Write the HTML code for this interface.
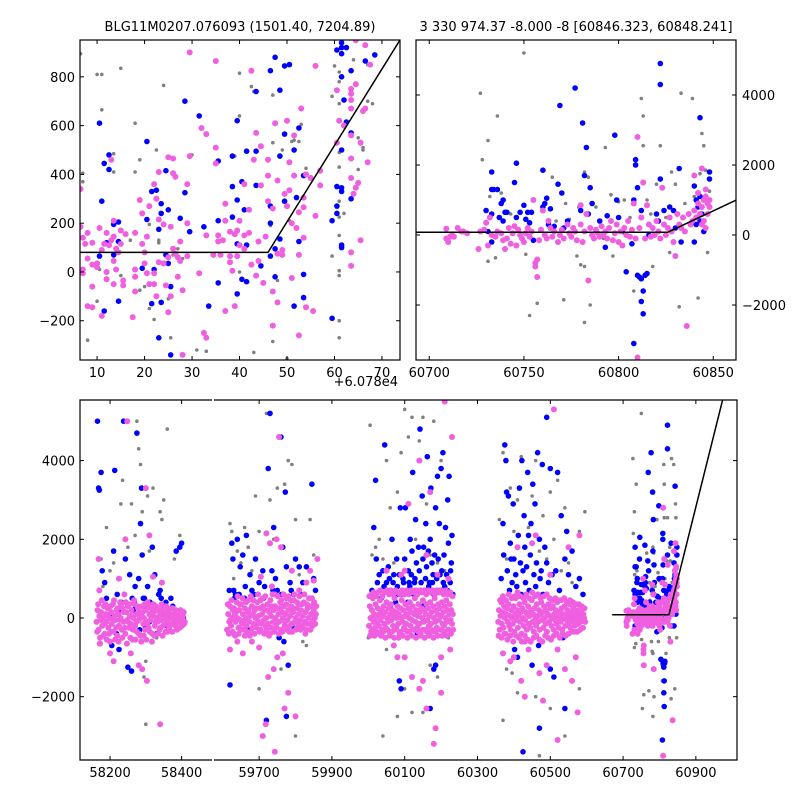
<!DOCTYPE html>
<html><head><meta charset="utf-8"><style>
body{margin:0;background:#fff}
svg text{font-family:"DejaVu Sans","Liberation Sans",sans-serif;font-size:13px;fill:#000}
</style></head><body>
<svg id="chart" width="800" height="800" viewBox="0 0 800 800" xmlns="http://www.w3.org/2000/svg">
<rect width="800" height="800" fill="#fff"/>
<defs>
<clipPath id="cTL"><rect x="80" y="40" width="320" height="320"/></clipPath>
<clipPath id="cTR"><rect x="416" y="40" width="320" height="320"/></clipPath>
<clipPath id="cBL"><rect x="80" y="400" width="132" height="360"/></clipPath>
<clipPath id="cBR"><rect x="214" y="400" width="523" height="360"/></clipPath>
</defs>
<text x="240" y="31" text-anchor="middle">BLG11M0207.076093 (1501.40, 7204.89)</text>
<text x="576" y="31" text-anchor="middle">3 330 974.37 -8.000 -8 [60846.323, 60848.241]</text>
<text x="398" y="386" text-anchor="end">+6.078e4</text>
<g id="layer"></g>
</svg>
<script>
const tlGray=[[6.5,895],[7,405],[7,370],[8,-280],[10,810],[10,-120],[10.5,10],[11,810],[11,665],[13.5,485],[13.5,410],[15,835],[15,-15],[17,130],[18,610],[18,410],[19,460],[19,-75],[20,-60],[21,-150],[21,195],[22,-195],[22.5,500],[23,120],[23,130],[24,765],[25,-110],[25.5,-270],[26,70],[27,95],[28,55],[30,480],[31,-320],[33,-325],[39,475],[40,815],[40,640],[40,0],[42.5,760],[43,740],[46.5,190],[47,725],[47,530],[47,-285],[48,-35],[49,500],[50.5,210],[51,535],[51.5,540],[52.5,535],[53,605],[54,425],[55,390],[59.5,720],[59.5,65],[60,845],[61,820],[61,780],[61,690],[61,490],[61,430],[61,290],[61,225],[61,150],[61,5],[61,-15],[61,-200],[61,-270],[62,240],[64,870],[65,550],[65,420],[66,510],[66,500],[67,700],[67,850],[68,690],[50,-355],[43,-330]];
const tlBlue=[[10.5,610],[10.5,65],[11,290],[11.5,445],[12.5,480],[12.5,420],[11.5,-160],[12,120],[13.5,195],[13.5,70],[14.5,205],[14.5,-120],[14.5,125],[19.5,15],[20.5,535],[20.5,215],[21.5,330],[21.5,-130],[22,10],[22.5,335],[23,175],[23.5,280],[23.5,240],[24.5,415],[25,255],[24.5,70],[25,35],[25.5,-60],[23,-270],[23.5,-125],[25.5,-340],[27.5,220],[28.5,700],[28.5,325],[29.5,165],[31.5,640],[32.5,185],[33.5,-140],[35.5,455],[35.5,210],[35.5,-45],[38.5,475],[38.5,350],[38.5,225],[39.5,620],[39.5,295],[39.5,115],[39.5,-90],[40.5,370],[40.5,-30],[41,255],[41.5,495],[41.5,-40],[41.5,110],[43.5,740],[43.5,495],[43.5,355],[44.5,25],[46.5,825],[46.5,270],[46.5,200],[46.5,65],[47.5,880],[47.5,95],[47.5,-20],[48.5,745],[48.5,135],[48.5,475],[49.5,845],[49.5,565],[50.5,850],[49.5,290],[51.5,500],[51.5,-140],[52.5,590],[52,305],[52.5,125],[53.5,-10],[53.5,-105],[53.5,395],[59.5,210],[59.5,-190],[60.5,910],[60.5,350],[60.5,270],[60.5,240],[61.5,940],[61.5,920],[61.5,895],[61.5,800],[61.5,500],[61.5,345],[61.5,330],[61.5,110],[61.5,100],[62,705],[62.5,920],[62.5,615],[63.5,570],[63.5,825],[63.5,300],[66.5,865],[68.5,890]];
const tlPink=[[6.5,340],[6.5,185],[7,140],[7,10],[7,-5],[7.5,115],[8,160],[8,55],[8,-140],[9,120],[9,30],[9,-60],[9,-145],[10,35],[10,20],[10.5,180],[11,90],[11,-180],[11.5,115],[12,160],[12,-30],[12,0],[12.5,110],[13,130],[13,460],[13.5,210],[13.5,145],[13.5,-50],[13.5,45],[14,95],[14,10],[14.5,80],[15,170],[15,115],[15.5,-35],[15.5,-55],[16,155],[17.5,-185],[18,160],[18,-80],[18,-20],[18,10],[19,295],[19.5,115],[19.5,240],[20,35],[20,80],[20.5,-5],[20.5,145],[21,270],[21,-50],[22,360],[22,-50],[22,-5],[22.5,300],[22.5,-100],[23,215],[23,410],[23,40],[24,195],[24,35],[24.5,-55],[25,470],[25,-165],[25,60],[25.5,185],[25.5,-100],[26,465],[26,405],[26,95],[26.5,390],[26.5,75],[27,60],[27,-20],[27.5,125],[27.5,45],[28,-75],[28,-340],[29,360],[29,200],[29,65],[29.5,900],[29.5,475],[31.5,-5],[32,590],[32.5,-250],[33,565],[33,-270],[33,150],[34.5,70],[35,865],[35,510],[35,445],[35.5,125],[35.5,150],[36,70],[36.5,130],[37,280],[37,210],[37,-160],[38,165],[38,40],[38,65],[38.5,5],[39,155],[39,-140],[39.5,65],[39.5,170],[40,210],[40,110],[41,360],[41,150],[41,95],[42,255],[42,160],[42.5,825],[42.5,30],[43,460],[43.5,570],[43.5,-15],[44,125],[44,45],[44.5,515],[44.5,355],[45,-45],[45.5,145],[46,290],[46,460],[46,395],[47,-220],[47,-80],[47,260],[47.5,610],[48,375],[48,-125],[48,75],[49,70],[49,90],[49.5,320],[50,620],[50,270],[50.5,335],[50.5,450],[51,200],[51,-25],[51.5,560],[51.5,395],[52,180],[52.5,245],[52.5,70],[52.5,-260],[53,670],[53.5,305],[53.5,265],[53.5,140],[54,400],[54,-145],[55,385],[55.5,-160],[56,845],[56,230],[57,415],[57,355],[60.5,745],[60.5,530],[61,620],[62,600],[63.5,750],[63.5,730],[63.5,705],[63.5,670],[63.5,560],[63.5,465],[63.5,385],[63.5,80],[63.5,25],[64,320],[64.5,345],[64.5,770],[65,365],[65.5,530],[65.5,130],[66.5,670],[66.5,930],[67,450],[67.5,850],[64.5,950],[66,660]];
const tlModel=[[6.4,80],[46,80],[73.8,951]];

const trPink=[[60709,180],[60709,-100],[60710,-200],[60711,-50],[60712,0],[60713,-50],[60715,200],[60717,100],[60718,100],[60720,50],[60726,-400],[60727,100],[60729,150],[60730,350],[60731,-300],[60732,500],[60733,0],[60735,-50],[60736,100],[60738,50],[60739,-150],[60740,-400],[60741,-100],[60742,200],[60743,-250],[60744,50],[60745,250],[60746,-300],[60747,150],[60748,0],[60749,-100],[60750,-200],[60751,50],[60752,200],[60753,-50],[60754,100],[60755,1000],[60756,-900],[60756,-800],[60757,-1200],[60757,-700],[60758,-150],[60759,150],[60760,700],[60761,0],[60762,-100],[60763,400],[60764,200],[60765,-50],[60766,100],[60768,-200],[60769,0],[60770,150],[60771,-100],[60773,300],[60774,50],[60775,-50],[60776,200],[60777,100],[60778,-150],[60780,850],[60780,300],[60781,-200],[60782,100],[60783,600],[60784,-1300],[60785,200],[60786,0],[60787,-100],[60788,150],[60789,50],[60790,-50],[60791,250],[60792,0],[60793,100],[60794,-100],[60795,200],[60796,400],[60797,-150],[60798,50],[60799,300],[60800,-200],[60801,100],[60802,-300],[60803,200],[60804,0],[60805,400],[60806,-50],[60807,150],[60808,900],[60809,-100],[60810,2800],[60810,-3500],[60811,200],[60812,500],[60813,1500],[60814,-100],[60815,850],[60816,300],[60817,-50],[60818,200],[60819,0],[60820,400],[60821,100],[60822,-100],[60823,1350],[60824,300],[60825,0],[60826,200],[60827,500],[60828,100],[60829,-200],[60830,-600],[60831,600],[60832,300],[60833,200],[60834,500],[60835,100],[60836,-2600],[60837,600],[60838,300],[60839,400],[60840,1700],[60840,700],[60841,500],[60842,900],[60842,1200],[60843,600],[60844,1900],[60844,800],[60845,1000],[60845,400],[60846,1100],[60846,200],[60847,900],[60847,600],[60848,800],[60848,1000],[60844,300],[60846,1300]];
const trBlue=[[60730,700],[60731,100],[60733,1800],[60733,1300],[60734,1300],[60733,600],[60733,-200],[60736,1300],[60737,500],[60738,900],[60739,1000],[60739,400],[60740,650],[60741,650],[60745,1500],[60746,2050],[60746,500],[60748,650],[60750,850],[60751,450],[60752,650],[60753,350],[60754,650],[60755,-150],[60760,1850],[60760,800],[60761,900],[60762,1050],[60763,300],[60764,750],[60766,250],[60768,1450],[60769,3700],[60770,1200],[60771,200],[60773,400],[60777,4200],[60780,700],[60781,3200],[60782,1700],[60783,2500],[60784,600],[60785,1350],[60786,900],[60790,400],[60793,-350],[60794,550],[60798,2850],[60799,1000],[60800,500],[60802,100],[60804,-1050],[60807,-250],[60808,1000],[60809,2000],[60809,2150],[60810,1350],[60810,-1150],[60811,-1200],[60812,-1250],[60812,-1900],[60813,-1600],[60813,-2250],[60814,-1150],[60815,-1100],[60808,-3100],[60812,700],[60816,0],[60818,200],[60820,600],[60821,400],[60822,4900],[60822,4300],[60822,1600],[60824,700],[60827,800],[60829,700],[60830,200],[60832,1900],[60833,-200],[60840,1400],[60840,-200],[60841,1000],[60841,300],[60842,1200],[60842,800],[60843,1100],[60843,400],[60843,3350],[60844,600],[60845,100],[60848,1800],[60848,1600],[60847,900]];
const trGray=[[60727,4050],[60728,2150],[60731,2700],[60731,-750],[60732,1100],[60735,-650],[60736,3400],[60738,1200],[60743,600],[60750,5200],[60751,-550],[60753,-2300],[60757,-1950],[60765,1650],[60767,400],[60771,-1850],[60772,900],[60774,450],[60778,-600],[60779,800],[60780,-850],[60782,-900],[60782,-2500],[60782,1800],[60784,1650],[60785,-2000],[60788,800],[60792,-100],[60793,2500],[60796,1150],[60797,-600],[60800,950],[60803,1000],[60806,500],[60808,-1600],[60812,3900],[60813,3400],[60813,2550],[60815,1000],[60817,600],[60818,-900],[60820,1450],[60822,2550],[60825,500],[60827,-500],[60828,1800],[60830,1450],[60832,-2050],[60833,4050],[60835,900],[60839,3900],[60840,1100],[60842,-1800],[60843,1750],[60844,2900],[60845,2550],[60846,1850],[60847,-500],[60848,1250]];
const trModel=[[60680,80],[60826,80],[60880,1450]];

const s1Pink=[[58162,-100],[58165,200],[58168,-300],[58170,50],[58172,-500],[58175,150],[58178,-200],[58180,0],[58183,300],[58185,-400],[58188,100],[58190,-100],[58193,250],[58195,-250],[58198,0],[58200,-600],[58203,150],[58205,-150],[58208,350],[58210,-350],[58213,50],[58215,-50],[58218,200],[58220,-450],[58223,100],[58225,-200],[58228,400],[58230,0],[58233,-300],[58235,250],[58238,-100],[58240,600],[58243,-400],[58245,150],[58248,-50],[58250,300],[58253,-250],[58255,50],[58258,-150],[58260,200],[58263,-550],[58265,0],[58268,350],[58270,-200],[58273,100],[58275,-350],[58278,250],[58280,-50],[58283,150],[58285,-450],[58288,50],[58290,300],[58293,-150],[58295,0],[58298,-300],[58300,200],[58303,-100],[58305,400],[58308,-250],[58310,100],[58313,-50],[58315,250],[58318,-400],[58320,50],[58323,150],[58325,-200],[58328,300],[58330,0],[58333,-100],[58335,200],[58338,-300],[58340,100],[58343,-50],[58345,250],[58348,-200],[58350,0],[58353,150],[58355,-350],[58358,50],[58360,-100],[58363,200],[58365,-250],[58368,100],[58370,0],[58373,-150],[58375,250],[58378,-50],[58380,100],[58383,-200],[58385,0],[58388,150],[58390,-100],[58393,50],[58395,-250],[58398,100],[58400,-50],[58403,0],[58406,150],[58409,-100],[58168,1500],[58170,700],[58210,-1100],[58225,1000],[58243,2000],[58248,5000],[58258,-900],[58280,-1200],[58290,-1300],[58300,3300],[58303,-1600],[58310,2100],[58320,1050],[58340,-2700],[58345,900],[58200,-900]];
const s1PinkCore=[[58164,-350],[58167,350],[58171,-650],[58174,-50],[58177,450],[58181,-450],[58184,-150],[58187,350],[58191,-550],[58194,50],[58197,-400],[58201,300],[58204,-350],[58207,-50],[58211,450],[58214,-550],[58217,-250],[58221,250],[58224,-600],[58227,-50],[58231,350],[58234,-500],[58237,150],[58241,-250],[58244,400],[58247,-650],[58251,-100],[58254,350],[58257,-500],[58261,50],[58264,-300],[58267,450],[58271,-550],[58274,-100],[58277,300],[58281,-400],[58284,0],[58287,-600],[58291,150],[58294,-450],[58297,350],[58301,-550],[58304,-150],[58307,300],[58311,-350],[58314,50],[58317,-600],[58321,350],[58324,-450],[58327,-100],[58331,250],[58334,-400],[58337,50],[58341,-250],[58344,350],[58347,-450],[58351,150],[58354,-150],[58357,300],[58361,-350],[58364,50],[58367,-200],[58371,250],[58374,-350],[58377,100],[58381,-150],[58384,200],[58387,-300],[58391,100],[58394,-100],[58397,200],[58401,-200],[58404,100],[58407,-150]];
const s1Blue=[[58165,5000],[58168,3300],[58170,3250],[58172,-650],[58175,3700],[58178,1200],[58185,900],[58190,500],[58200,100],[58205,-700],[58210,1700],[58213,3750],[58218,-400],[58220,600],[58225,-800],[58230,200],[58238,5000],[58243,1500],[58250,-1250],[58255,1100],[58260,-1350],[58265,200],[58268,400],[58270,800],[58275,4700],[58280,1000],[58283,-300],[58285,2400],[58288,3300],[58290,1600],[58293,500],[58298,-200],[58300,300],[58305,800],[58310,-100],[58318,1800],[58320,200],[58325,1100],[58330,-400],[58340,700],[58343,500],[58350,100],[58360,-200],[58375,300],[58385,1700],[58395,1800],[58400,1900],[58405,0],[58232,400],[58262,500],[58272,300],[58296,500],[58312,400],[58336,600],[58356,400],[58370,500]];
const s1Gray=[[58175,1500],[58180,800],[58190,2300],[58200,1200],[58210,1400],[58220,-200],[58230,2900],[58235,3500],[58240,-100],[58250,1800],[58260,2900],[58270,2100],[58275,5000],[58280,4300],[58285,3900],[58290,2700],[58300,-1100],[58305,3100],[58310,1700],[58320,3300],[58330,-500],[58340,2700],[58345,2500],[58350,3000],[58360,4800],[58380,1500],[58395,2100],[58300,-2700],[58295,-1500]];

const s2Pink=[[59612,-300],[59615,100],[59618,-100],[59620,300],[59623,-200],[59625,0],[59628,200],[59630,-400],[59633,100],[59635,-100],[59638,400],[59640,0],[59643,-250],[59645,200],[59648,-50],[59650,350],[59653,-150],[59655,100],[59658,-300],[59660,250],[59663,0],[59665,-200],[59668,150],[59670,450],[59673,-100],[59675,50],[59678,-350],[59680,300],[59683,100],[59685,-150],[59688,200],[59690,0],[59693,-250],[59695,400],[59698,50],[59700,-100],[59703,250],[59705,-300],[59708,100],[59710,500],[59713,-50],[59715,200],[59718,-200],[59720,0],[59723,350],[59725,-150],[59728,150],[59730,-400],[59733,50],[59735,300],[59738,-100],[59740,200],[59743,600],[59745,0],[59748,-250],[59750,250],[59753,100],[59755,-100],[59758,400],[59760,-300],[59763,150],[59765,0],[59768,300],[59770,-200],[59773,100],[59775,500],[59778,-50],[59780,200],[59783,-350],[59785,50],[59788,300],[59790,-150],[59793,150],[59795,450],[59798,-100],[59800,0],[59803,250],[59805,-250],[59808,100],[59810,350],[59813,-50],[59815,200],[59818,-200],[59820,50],[59823,400],[59825,-100],[59828,150],[59830,-300],[59833,250],[59835,0],[59838,300],[59840,-150],[59843,100],[59845,500],[59848,-50],[59850,200],[59853,0],[59856,100],[59620,-800],[59640,-600],[59655,-900],[59680,-600],[59700,-750],[59705,1050],[59710,-3000],[59718,-2700],[59720,2150],[59725,-1500],[59730,1900],[59735,800],[59740,-1300],[59743,-3400],[59748,2000],[59750,-1000],[59755,4600],[59760,1800],[59765,-900],[59770,-2300],[59780,-1900],[59790,1200],[59800,-2500],[59810,700],[59830,900],[59840,1200],[59850,950],[59860,1500]];
const s2PinkCore=[[59614,350],[59617,-400],[59621,-50],[59624,450],[59627,-350],[59631,250],[59634,-450],[59637,150],[59641,550],[59644,-400],[59647,350],[59651,-300],[59654,500],[59657,-100],[59661,-450],[59664,400],[59667,-350],[59671,200],[59674,-450],[59677,550],[59681,-250],[59684,450],[59687,-400],[59691,250],[59694,-150],[59697,600],[59701,-350],[59704,450],[59707,-150],[59711,300],[59714,-400],[59717,550],[59721,-300],[59724,200],[59727,-450],[59731,450],[59734,-250],[59737,600],[59741,-350],[59744,300],[59747,-150],[59751,550],[59754,-400],[59757,250],[59761,450],[59764,-350],[59767,600],[59771,-100],[59774,350],[59777,-300],[59781,550],[59784,-200],[59787,450],[59791,-350],[59794,250],[59797,600],[59801,-300],[59804,400],[59807,-150],[59811,550],[59814,-300],[59817,350],[59821,-250],[59824,600],[59827,-400],[59831,350],[59834,-150],[59837,500],[59841,-300],[59844,300],[59847,-200],[59851,400],[59854,-150],[59857,300]];
const s2Blue=[[59620,-1700],[59625,1900],[59628,1500],[59630,700],[59635,600],[59640,2000],[59648,1300],[59655,1600],[59660,500],[59665,2100],[59670,-300],[59675,1100],[59680,700],[59690,1500],[59700,900],[59710,1200],[59715,800],[59720,-2600],[59725,3800],[59730,5200],[59735,1200],[59740,2300],[59745,1000],[59750,700],[59755,-500],[59760,4600],[59765,1800],[59768,-600],[59772,3200],[59775,1300],[59780,-1200],[59785,900],[59790,-200],[59795,600],[59800,1500],[59810,1300],[59820,900],[59830,1300],[59840,-300],[59850,1000],[59845,3400],[59775,-2500],[59618,700],[59632,500],[59645,600],[59662,800],[59686,600],[59712,500],[59738,700],[59762,600],[59788,700],[59815,600],[59838,500],[59855,700]];
const s2Gray=[[59620,2400],[59625,2200],[59630,1000],[59640,1700],[59650,1400],[59660,2300],[59670,1800],[59680,1200],[59690,3100],[59700,2200],[59710,5600],[59720,5200],[59730,3000],[59740,2000],[59750,3300],[59760,1800],[59770,3400],[59780,4000],[59790,3900],[59800,2500],[59810,1100],[59820,-600],[59830,-700],[59840,2500],[59850,1600],[59700,-1800],[59800,-3000],[59760,-1300]];

const s3Pink=[[60002,-200],[60004,300],[60006,0],[60008,-350],[60010,200],[60012,500],[60014,-100],[60016,100],[60018,-250],[60020,350],[60022,0],[60024,-150],[60026,250],[60028,-400],[60030,100],[60032,450],[60034,-50],[60036,200],[60038,-300],[60040,50],[60042,300],[60044,-150],[60046,150],[60048,-250],[60050,400],[60052,0],[60054,-100],[60056,250],[60058,-350],[60060,100],[60062,350],[60064,-50],[60066,200],[60068,-200],[60070,50],[60072,500],[60074,-300],[60076,150],[60078,0],[60080,300],[60082,-150],[60084,100],[60086,-400],[60088,250],[60090,0],[60092,450],[60094,-100],[60096,200],[60098,-250],[60100,50],[60102,350],[60104,-150],[60106,100],[60108,-350],[60110,250],[60112,0],[60114,400],[60116,-200],[60118,150],[60120,-50],[60122,300],[60124,-300],[60126,100],[60128,500],[60130,-100],[60132,200],[60134,-250],[60136,50],[60138,350],[60140,-150],[60142,150],[60144,-400],[60146,250],[60148,0],[60150,450],[60152,-100],[60154,200],[60156,-300],[60158,100],[60160,350],[60162,-50],[60164,250],[60166,-200],[60168,50],[60170,400],[60172,-150],[60174,150],[60176,-350],[60178,300],[60180,0],[60182,500],[60184,-100],[60186,200],[60188,-250],[60190,100],[60192,350],[60194,-50],[60196,250],[60198,-300],[60200,50],[60202,400],[60204,-150],[60206,150],[60208,-200],[60210,300],[60212,0],[60214,450],[60216,-100],[60218,200],[60220,-300],[60222,100],[60224,350],[60226,-50],[60228,200],[60230,-150],[60232,100],[60050,1200],[60070,-700],[60080,-1000],[60090,1100],[60100,1200],[60110,2900],[60120,-1500],[60130,700],[60140,4000],[60150,-1600],[60160,-2300],[60170,3200],[60180,-3200],[60185,-2800],[60200,-1900],[60210,5500],[60220,1000],[60230,4600],[60100,-1000],[60200,-1000],[60225,-800],[60140,-1800],[60160,1600],[60190,1100]];
const s3PinkCore=[[60003,550],[60005,-450],[60009,600],[60011,-300],[60015,650],[60017,-450],[60021,550],[60023,-350],[60027,650],[60029,-200],[60033,700],[60035,-450],[60039,550],[60041,-350],[60045,650],[60047,-500],[60051,700],[60053,-300],[60057,600],[60059,-450],[60063,700],[60065,-350],[60069,600],[60071,-500],[60075,700],[60077,-250],[60081,650],[60083,-500],[60087,600],[60089,-350],[60093,700],[60095,-450],[60099,600],[60101,-300],[60105,700],[60107,-500],[60111,600],[60113,-350],[60117,700],[60119,-450],[60123,650],[60125,-300],[60129,700],[60131,-500],[60135,600],[60137,-350],[60141,700],[60143,-450],[60147,650],[60149,-300],[60153,700],[60155,-500],[60159,600],[60161,-350],[60165,700],[60167,-450],[60171,650],[60173,-300],[60177,700],[60179,-500],[60183,600],[60185,-350],[60189,700],[60191,-450],[60195,650],[60197,-300],[60201,700],[60203,-450],[60207,600],[60209,-350],[60213,700],[60215,-450],[60219,600],[60221,-300],[60225,650],[60227,-400],[60231,550],[60233,-300]];
const s3Blue=[[60010,700],[60015,2300],[60020,3500],[60022,1500],[60030,1100],[60035,500],[60040,1200],[60045,4400],[60050,900],[60055,1300],[60060,700],[60065,2000],[60070,1100],[60072,600],[60075,400],[60078,1500],[60080,800],[60085,1100],[60088,2800],[60090,600],[60095,1000],[60100,1500],[60102,2800],[60105,700],[60108,400],[60110,1200],[60112,900],[60115,2000],[60118,1100],[60120,1700],[60122,3700],[60125,600],[60128,1000],[60130,2500],[60132,1400],[60135,-400],[60138,1800],[60140,1200],[60142,4800],[60145,900],[60148,3100],[60150,1500],[60152,1800],[60155,700],[60158,2400],[60160,1300],[60162,4100],[60165,1700],[60168,900],[60170,2000],[60172,3300],[60175,1400],[60178,1100],[60180,600],[60182,1600],[60185,2800],[60188,1000],[60190,3600],[60192,1500],[60195,2400],[60198,700],[60200,3800],[60202,1200],[60205,4200],[60208,1600],[60210,800],[60212,2300],[60215,1100],[60218,3000],[60220,1900],[60222,3600],[60225,900],[60228,1400],[60230,2100],[60232,600],[60085,-1600],[60090,-1800],[60170,-2300],[60180,-1300],[60195,-3700],[60185,-1200],[60060,300],[60150,300],[60025,900],[60043,800],[60058,1000],[60068,900],[60083,600],[60097,900],[60114,800],[60127,900],[60143,700],[60157,1000],[60166,800],[60176,900],[60187,700],[60197,1100],[60206,900],[60217,700],[60226,1200]];
const s3Gray=[[60005,4900],[60010,1600],[60020,1800],[60030,2000],[60040,1500],[60050,4000],[60060,2800],[60070,1400],[60080,3200],[60090,4200],[60100,5300],[60110,4600],[60120,5100],[60130,2000],[60140,4500],[60150,5100],[60160,2900],[60170,1600],[60180,5000],[60190,1400],[60200,4000],[60210,1200],[60220,-500],[60000,-500],[60050,-800],[60080,-2500],[60100,-1800],[60120,-2400],[60150,-2400],[60170,-1200],[60190,-1500],[60040,-3000]];

const s4Pink=[[60357,-100],[60359,200],[60361,-300],[60363,50],[60365,400],[60367,-150],[60369,150],[60371,-250],[60373,300],[60375,0],[60377,-400],[60379,100],[60381,250],[60383,-100],[60385,350],[60387,-200],[60389,50],[60391,-300],[60393,200],[60395,0],[60397,-150],[60399,300],[60401,-350],[60403,100],[60405,500],[60407,-50],[60409,200],[60411,-250],[60413,50],[60415,350],[60417,-100],[60419,150],[60421,-400],[60423,250],[60425,0],[60427,-200],[60429,400],[60431,-50],[60433,150],[60435,-300],[60437,100],[60439,300],[60441,-150],[60443,50],[60445,-250],[60447,200],[60449,450],[60451,-100],[60453,100],[60455,-350],[60457,250],[60459,0],[60461,-200],[60463,350],[60465,50],[60467,-100],[60469,200],[60471,-300],[60473,100],[60475,400],[60477,-50],[60479,150],[60481,-250],[60483,300],[60485,0],[60487,-150],[60489,200],[60491,-350],[60493,100],[60495,350],[60497,-100],[60499,50],[60501,250],[60503,-200],[60505,0],[60507,300],[60509,-300],[60511,100],[60513,-50],[60515,200],[60517,-150],[60519,400],[60521,0],[60523,-250],[60525,150],[60527,50],[60529,-100],[60531,250],[60533,-300],[60535,100],[60537,0],[60539,300],[60541,-200],[60543,50],[60545,-50],[60547,200],[60549,-150],[60551,100],[60553,350],[60555,-250],[60557,0],[60559,150],[60561,-100],[60563,250],[60565,50],[60567,-200],[60569,100],[60571,0],[60573,-50],[60575,200],[60577,-150],[60579,100],[60581,0],[60583,-100],[60585,150],[60587,50],[60589,-50],[60591,100],[60593,0],[60596,-100],[60370,-900],[60390,-1100],[60400,-1000],[60410,1800],[60420,-1600],[60430,-600],[60440,-800],[60450,1900],[60460,2100],[60470,-1400],[60480,-2100],[60490,-1200],[60500,1100],[60510,5300],[60520,-800],[60540,-1300],[60550,1800],[60560,-1600],[60570,-1000],[60575,-2400],[60580,2100],[60520,-3100],[60430,-2000]];
const s4PinkCore=[[60358,-450],[60362,450],[60366,-500],[60370,550],[60374,-400],[60378,450],[60382,-550],[60386,600],[60390,-450],[60394,500],[60398,-600],[60402,550],[60406,-450],[60410,650],[60414,-500],[60418,550],[60422,-600],[60426,500],[60430,-450],[60434,600],[60438,-550],[60442,500],[60446,-600],[60450,650],[60454,-500],[60458,550],[60462,-450],[60466,600],[60470,-550],[60474,500],[60478,-600],[60482,550],[60486,-450],[60490,600],[60494,-500],[60498,500],[60502,-550],[60506,450],[60510,-450],[60514,500],[60518,-400],[60522,450],[60526,-500],[60530,450],[60534,-400],[60538,500],[60542,-450],[60546,400],[60550,-400],[60554,450],[60558,-350],[60562,400],[60566,-350],[60570,350],[60574,-350],[60578,350],[60582,-300],[60586,300],[60590,-250],[60594,250]];
const s4Blue=[[60365,1000],[60370,2400],[60372,1600],[60375,4400],[60378,4000],[60380,3200],[60382,1200],[60385,3100],[60388,700],[60390,1900],[60392,1500],[60395,900],[60398,2900],[60400,1500],[60402,-800],[60405,1100],[60408,800],[60410,-1000],[60412,2100],[60415,3300],[60418,1400],[60420,600],[60422,4000],[60425,1200],[60428,2600],[60430,1800],[60432,900],[60435,1300],[60438,3700],[60440,2100],[60442,700],[60445,1600],[60447,2400],[60450,-1200],[60452,3400],[60455,1100],[60458,2900],[60460,800],[60462,1400],[60465,4200],[60468,-700],[60470,2000],[60472,1000],[60475,1200],[60478,3900],[60480,600],[60485,1800],[60490,1400],[60495,900],[60500,3800],[60505,1100],[60510,-1500],[60515,1200],[60520,3700],[60525,700],[60530,2600],[60535,-500],[60540,1500],[60545,2200],[60550,1100],[60560,1700],[60570,800],[60580,1000],[60590,600],[60425,-3400],[60440,-3700],[60470,-2800],[60540,-2300],[60500,-1300],[60490,5100]];
const s4Gray=[[60360,2500],[60370,4200],[60380,1500],[60390,3300],[60400,2200],[60410,3000],[60420,4100],[60430,1800],[60440,2300],[60450,3100],[60460,4000],[60470,1700],[60480,2600],[60490,1500],[60500,3200],[60510,2000],[60520,3500],[60530,1200],[60540,2800],[60550,1400],[60560,900],[60580,2200],[60595,2700],[60370,-2600],[60380,-1300],[60395,-1400],[60410,-1900],[60460,-2000],[60500,-2300],[60540,-3000],[60580,-1800],[60470,-3500]];
const bModel=[[60670,80],[60826,80],[60975,5600]];

const tlXTicks=[10,20,30,40,50,60,70];
const tlYTicks=[-200,0,200,400,600,800];
const trXTicks=[60700,60750,60800,60850];
const trYTicks=[-2000,0,2000,4000];
const blXTicks=[58200,58400];
const brXTicks=[59700,59900,60100,60300,60500,60700,60900];
const bYTicks=[-2000,0,2000,4000];

const NS='http://www.w3.org/2000/svg';
const layer=document.getElementById('layer');
function mk(tag,attrs,parent){const e=document.createElementNS(NS,tag);for(const k in attrs)e.setAttribute(k,attrs[k]);(parent||layer).appendChild(e);return e;}
function lin(d0,d1,p0,p1){return v=>p0+(v-d0)*(p1-p0)/(d1-d0);}
const C={gray:'#808080',blue:'#0000ff',pink:'#ef5fe0'};
const R={gray:1.8,blue:2.8,pink:3};

function scatter(g,data,color,xs,ys){
  for(const p of data){
    const c=mk('circle',{cx:xs(p[0]).toFixed(1),cy:ys(p[1]).toFixed(1),r:R[color],fill:C[color]},g);
    
    
  }
}
function model(g,data,xs,ys){
  const l=mk('polyline',{points:data.map(p=>xs(p[0]).toFixed(1)+','+ys(p[1]).toFixed(1)).join(' '),fill:'none',stroke:'#000','stroke-width':1.5},g);
  
  
}
function panelG(clip,name){
  const g=mk('g',{'clip-path':'url(#'+clip+')'});
  
  
  return g;
}
function xTicks(ticks,xs,y0,y1,label){
  for(const t of ticks){const x=xs(t);
    mk('line',{x1:x,y1:y1,x2:x,y2:y1-4,stroke:'#000'});
    mk('line',{x1:x,y1:y0,x2:x,y2:y0+4,stroke:'#000'});
    if(label){const tx=mk('text',{x:x,y:y1+17,'text-anchor':'middle'});tx.textContent=t<0?'\u2212'+(-t):t;
      
      }
  }
}
function yTicks(ticks,ys,x0,x1,side){
  for(const t of ticks){const y=ys(t);
    mk('line',{x1:x0,y1:y,x2:x0+4,y2:y,stroke:'#000'});
    mk('line',{x1:x1,y1:y,x2:x1-4,y2:y,stroke:'#000'});
    if(side){const tx=mk('text',{x:side==='left'?x0-5:x1+6,y:y+5,'text-anchor':side==='left'?'end':'start'});tx.textContent=t<0?'\u2212'+(-t):t;
      
      }
  }
}

// top-left
{const xs=lin(6.4,73.8,80,400),ys=lin(-361,951,360,40);
 const g=panelG('cTL','top-left-plot');
 scatter(g,tlGray,'gray',xs,ys);scatter(g,tlBlue,'blue',xs,ys);scatter(g,tlPink,'pink',xs,ys);model(g,tlModel,xs,ys);
 xTicks(tlXTicks,xs,40,360,true);yTicks(tlYTicks,ys,80,400,'left');
 const f=mk('rect',{x:80,y:40,width:320,height:320,fill:'none',stroke:'#000','stroke-width':1.2});}
// top-right
{const xs=lin(60693,60862,416,736),ys=lin(-3571,5571,360,40);
 const g=panelG('cTR','top-right-plot');
 scatter(g,trGray,'gray',xs,ys);scatter(g,trBlue,'blue',xs,ys);scatter(g,trPink,'pink',xs,ys);model(g,trModel,xs,ys);
 xTicks(trXTicks,xs,40,360,true);yTicks(trYTicks,ys,416,736,'right');
 const f=mk('rect',{x:416,y:40,width:320,height:320,fill:'none',stroke:'#000','stroke-width':1.2});}
// bottom
{const ys=lin(-3609,5540,760,400);
 const xl=lin(58116,58485,80,212),xr=lin(59576,61013,214,737);
 const gl=panelG('cBL','bottom-left-plot');
 scatter(gl,s1Gray,'gray',xl,ys);scatter(gl,s1Blue,'blue',xl,ys);scatter(gl,s1PinkCore,'pink',xl,ys);scatter(gl,s1Pink,'pink',xl,ys);
 const gr=panelG('cBR','bottom-right-plot');
 for(const s of [[s2Gray,s2Blue,s2PinkCore,s2Pink],[s3Gray,s3Blue,s3PinkCore,s3Pink],[s4Gray,s4Blue,s4PinkCore,s4Pink],[trGray,trBlue,trPink]]){
   scatter(gr,s[0],'gray',xr,ys);scatter(gr,s[1],'blue',xr,ys);
   for(let i=2;i<s.length;i++)scatter(gr,s[i],'pink',xr,ys);}
 model(gr,bModel,xr,ys);
 xTicks(blXTicks,xl,400,760,true);xTicks(brXTicks,xr,400,760,true);
 yTicks(bYTicks,ys,80,737,'left');
 mk('path',{d:'M212,400 H80 V760 H212',fill:'none',stroke:'#000','stroke-width':1.2});
 mk('path',{d:'M214,400 H737 V760 H214',fill:'none',stroke:'#000','stroke-width':1.2});}
</script>
</body></html>
